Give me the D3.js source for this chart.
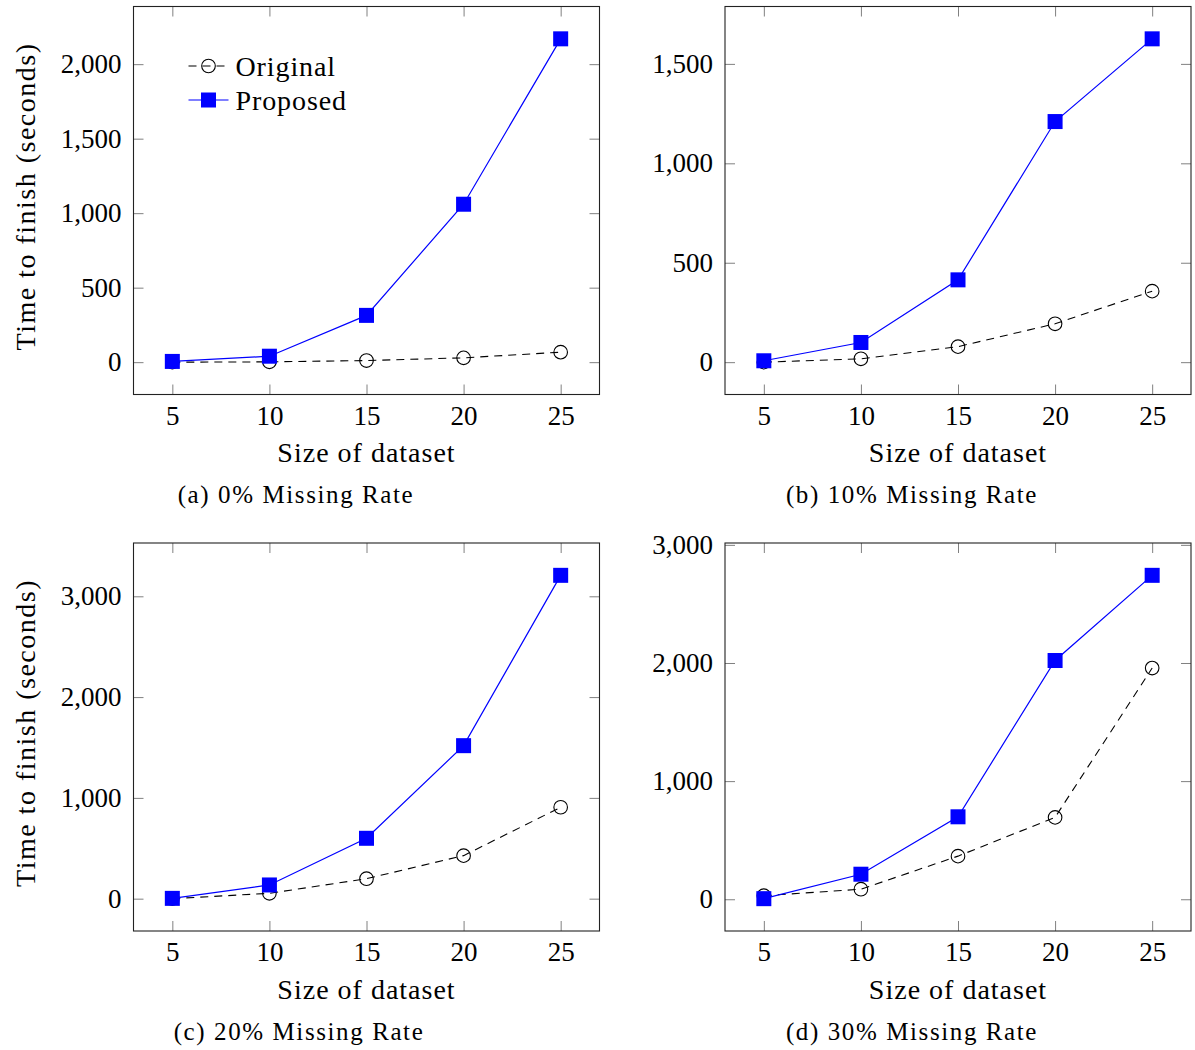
<!DOCTYPE html>
<html>
<head>
<meta charset="utf-8">
<script src="https://cdn.jsdelivr.net/npm/d3@7"></script>
<style>
  body { margin: 0; background: #fff; }
  svg text { font-family: "Liberation Serif", "Times New Roman", serif; fill: #000; }
</style>
</head>
<body>
<svg id="chart" width="1195" height="1050"></svg>
<script>
// data
const sizes = [5, 10, 15, 20, 25];
const originalA = [0, 2, 11, 29, 67];
const proposedA = [5, 40, 314, 1060, 2170];
const originalB = [0, 17, 78, 193, 357];
const proposedB = [7, 99, 414, 1210, 1626];
const originalC = [0, 53, 198, 427, 907];
const proposedC = [3, 136, 599, 1518, 3208];
const originalD = [30, 85, 365, 693, 1957];
const proposedD = [5, 212, 698, 2021, 2742];

const xTicks = [5, 10, 15, 20, 25];
const yTicksA = [0, 500, 1000, 1500, 2000];
const yTicksB = [0, 500, 1000, 1500];
const yTicksC = [0, 1000, 2000, 3000];
const yTicksD = [0, 1000, 2000, 3000];

const captions = ['(a) 0% Missing Rate', '(b) 10% Missing Rate', '(c) 20% Missing Rate', '(d) 30% Missing Rate'];
const seriesNames = ['Original', 'Proposed'];

const svg = d3.select('#chart');
const W = 466, H = 388;
const tickLen = 10;
const fontSize = 27;

// pgfplots style: enlarge limits by 10% of the data range
function enlarged(values) {
  const [lo, hi] = d3.extent(values);
  const pad = (hi - lo) * 0.1;
  return [lo - pad, hi + pad];
}

function renderPanel(opts) {
  const { left, top, orig, prop, yTicks, caption, captionX, yLabel, legend } = opts;
  const g = svg.append('g').attr('transform', `translate(${left},${top})`);

  const x = d3.scaleLinear().domain(enlarged(sizes)).range([0, W]);
  const y = d3.scaleLinear().domain(enlarged(orig.concat(prop))).range([H, 0]);

  const styleAxis = sel => {
    sel.select('.domain').remove();
    sel.selectAll('.tick line').attr('stroke', '#808080').attr('stroke-width', 1);
    sel.selectAll('text').attr('font-size', fontSize)
      .attr('font-family', '"Liberation Serif", serif').attr('fill', '#000');
    sel.attr('font-family', null).attr('font-size', null);
  };

  g.append('g').attr('transform', `translate(0,${H})`)
    .call(d3.axisBottom(x).tickValues(xTicks).tickSize(-tickLen).tickPadding(11))
    .call(styleAxis);
  g.append('g')
    .call(d3.axisTop(x).tickValues(xTicks).tickSize(-tickLen).tickFormat(''))
    .call(styleAxis);
  g.append('g')
    .call(d3.axisLeft(y).tickValues(yTicks).tickSize(-tickLen).tickPadding(12).tickFormat(d3.format(',')))
    .call(styleAxis);
  g.append('g').attr('transform', `translate(${W},0)`)
    .call(d3.axisRight(y).tickValues(yTicks).tickSize(-tickLen).tickFormat(''))
    .call(styleAxis);

  g.append('rect')
    .attr('width', W).attr('height', H)
    .attr('fill', 'none').attr('stroke', '#222').attr('stroke-width', 1.1);

  const line = d3.line().x((d, i) => x(sizes[i])).y(d => y(d));

  // Original: dashed black with open circles
  g.append('path').datum(orig)
    .attr('d', line).attr('fill', 'none')
    .attr('stroke', '#000').attr('stroke-width', 1.1).attr('stroke-dasharray', '8,6');
  g.selectAll('circle.orig').data(orig).join('circle')
    .attr('class', 'orig')
    .attr('cx', (d, i) => x(sizes[i])).attr('cy', d => y(d)).attr('r', 6.8)
    .attr('fill', 'none').attr('stroke', '#000').attr('stroke-width', 1.1);

  // Proposed: solid blue with filled squares
  const s = 15;
  g.append('path').datum(prop)
    .attr('d', line).attr('fill', 'none')
    .attr('stroke', '#0000ff').attr('stroke-width', 1.2);
  g.selectAll('rect.prop').data(prop).join('rect')
    .attr('class', 'prop')
    .attr('x', (d, i) => x(sizes[i]) - s / 2).attr('y', d => y(d) - s / 2)
    .attr('width', s).attr('height', s)
    .attr('fill', '#0000ff');

  g.append('text')
    .attr('x', W / 2).attr('y', H + 67.5)
    .attr('text-anchor', 'middle').attr('font-size', 28).attr('letter-spacing', 1)
    .text('Size of dataset');

  svg.append('text')
    .attr('x', captionX).attr('y', top + H + 108.5)
    .attr('text-anchor', 'middle').attr('font-size', 25).attr('letter-spacing', 1.6)
    .text(caption);

  if (yLabel) {
    svg.append('text')
      .attr('transform', `translate(25,${top + H / 2 - 4}) rotate(-90)`)
      .attr('text-anchor', 'middle').attr('dy', '0.35em')
      .attr('font-size', 28).attr('letter-spacing', 1.5)
      .text('Time to finish (seconds)');
  }

  if (legend) {
    const lg = g.append('g').attr('transform', 'translate(55,0)');
    seriesNames.forEach((name, i) => {
      const ly = 59.5 + i * 34;
      const row = lg.append('g').attr('transform', `translate(0,${ly})`);
      if (i === 0) {
        row.append('line').attr('x1', 0).attr('x2', 40)
          .attr('stroke', '#000').attr('stroke-width', 1.1).attr('stroke-dasharray', '8,6');
        row.append('circle').attr('cx', 20).attr('r', 6.8)
          .attr('fill', 'none').attr('stroke', '#000').attr('stroke-width', 1.1);
      } else {
        row.append('line').attr('x1', 0).attr('x2', 40)
          .attr('stroke', '#0000ff').attr('stroke-width', 1.2);
        row.append('rect').attr('x', 20 - s / 2).attr('y', -s / 2)
          .attr('width', s).attr('height', s).attr('fill', '#0000ff');
      }
      row.append('text').attr('x', 47).attr('dy', '0.35em')
        .attr('font-size', 28).attr('letter-spacing', 0.9).text(name);
    });
  }
}

renderPanel({ left: 133.5, top: 6.5, orig: originalA, prop: proposedA, yTicks: yTicksA,
  caption: captions[0], captionX: 296, yLabel: true, legend: true });
renderPanel({ left: 725, top: 6.5, orig: originalB, prop: proposedB, yTicks: yTicksB,
  caption: captions[1], captionX: 912, yLabel: false, legend: false });
renderPanel({ left: 133.5, top: 543, orig: originalC, prop: proposedC, yTicks: yTicksC,
  caption: captions[2], captionX: 299, yLabel: true, legend: false });
renderPanel({ left: 725, top: 543, orig: originalD, prop: proposedD, yTicks: yTicksD,
  caption: captions[3], captionX: 912, yLabel: false, legend: false });
</script>
</body>
</html>
